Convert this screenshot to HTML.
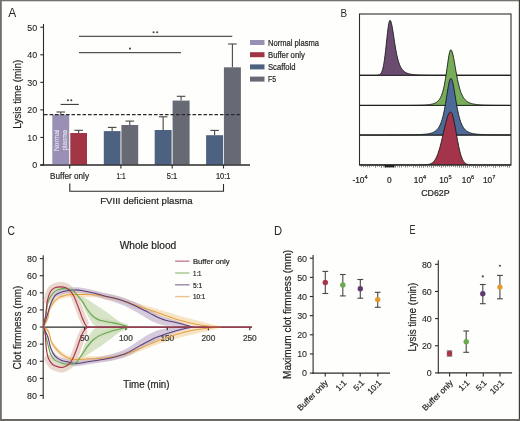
<!DOCTYPE html><html><head><meta charset="utf-8"><style>html,body{margin:0;padding:0;background:#fefefc;} svg{display:block;} text{font-family:"Liberation Sans", sans-serif;filter:grayscale(1);stroke:#2a2a2a;stroke-width:0.22px;}</style></head><body>
<svg width="520" height="421" viewBox="0 0 520 421">
<rect x="0" y="0" width="520" height="421" fill="#fefefc"/>
<text x="8.2" y="17" font-size="12.2" text-anchor="start" fill="#2a2a2a" textLength="8" lengthAdjust="spacingAndGlyphs" style="stroke:none">A</text>
<line x1="43.5" y1="24" x2="43.5" y2="165.6" stroke="#2b2b2b" stroke-width="1.1" />
<line x1="40.3" y1="165" x2="250" y2="165" stroke="#2b2b2b" stroke-width="1.1" />
<line x1="40.3" y1="165.0" x2="43.5" y2="165.0" stroke="#2b2b2b" stroke-width="1.1" />
<text x="37.2" y="168.3" font-size="8.9" text-anchor="end" fill="#1f1f1f" style="stroke-width:0.1px">0</text>
<line x1="40.3" y1="137.45" x2="43.5" y2="137.45" stroke="#2b2b2b" stroke-width="1.1" />
<text x="37.2" y="140.75" font-size="8.9" text-anchor="end" fill="#1f1f1f" style="stroke-width:0.1px">10</text>
<line x1="40.3" y1="109.9" x2="43.5" y2="109.9" stroke="#2b2b2b" stroke-width="1.1" />
<text x="37.2" y="113.2" font-size="8.9" text-anchor="end" fill="#1f1f1f" style="stroke-width:0.1px">20</text>
<line x1="40.3" y1="82.35000000000001" x2="43.5" y2="82.35000000000001" stroke="#2b2b2b" stroke-width="1.1" />
<text x="37.2" y="85.65" font-size="8.9" text-anchor="end" fill="#1f1f1f" style="stroke-width:0.1px">30</text>
<line x1="40.3" y1="54.80000000000001" x2="43.5" y2="54.80000000000001" stroke="#2b2b2b" stroke-width="1.1" />
<text x="37.2" y="58.10000000000001" font-size="8.9" text-anchor="end" fill="#1f1f1f" style="stroke-width:0.1px">40</text>
<line x1="40.3" y1="27.25" x2="43.5" y2="27.25" stroke="#2b2b2b" stroke-width="1.1" />
<text x="37.2" y="30.55" font-size="8.9" text-anchor="end" fill="#1f1f1f" style="stroke-width:0.1px">50</text>
<line x1="60.75" y1="112.0" x2="60.75" y2="114.6" stroke="#474747" stroke-width="1.1" />
<line x1="56.45" y1="112.0" x2="65.05" y2="112.0" stroke="#474747" stroke-width="1.1" />
<rect x="52.3" y="114.6" width="16.900000000000006" height="50.400000000000006" fill="#9a90b5"/>
<line x1="78.65" y1="130.3" x2="78.65" y2="133.0" stroke="#474747" stroke-width="1.1" />
<line x1="74.35000000000001" y1="130.3" x2="82.95" y2="130.3" stroke="#474747" stroke-width="1.1" />
<rect x="70.3" y="133.0" width="16.700000000000003" height="32.0" fill="#a13543"/>
<line x1="112.15" y1="127.4" x2="112.15" y2="131.1" stroke="#474747" stroke-width="1.1" />
<line x1="107.85000000000001" y1="127.4" x2="116.45" y2="127.4" stroke="#474747" stroke-width="1.1" />
<rect x="103.8" y="131.1" width="16.700000000000003" height="33.900000000000006" fill="#4d6180"/>
<line x1="129.8" y1="121.1" x2="129.8" y2="125.0" stroke="#474747" stroke-width="1.1" />
<line x1="125.50000000000001" y1="121.1" x2="134.10000000000002" y2="121.1" stroke="#474747" stroke-width="1.1" />
<rect x="121.4" y="125.0" width="16.799999999999983" height="40.0" fill="#676a74"/>
<line x1="163.14999999999998" y1="116.8" x2="163.14999999999998" y2="130.0" stroke="#474747" stroke-width="1.1" />
<line x1="158.84999999999997" y1="116.8" x2="167.45" y2="116.8" stroke="#474747" stroke-width="1.1" />
<rect x="154.7" y="130.0" width="16.900000000000006" height="35.0" fill="#4d6180"/>
<line x1="181.1" y1="96.3" x2="181.1" y2="100.6" stroke="#474747" stroke-width="1.1" />
<line x1="176.79999999999998" y1="96.3" x2="185.4" y2="96.3" stroke="#474747" stroke-width="1.1" />
<rect x="172.6" y="100.6" width="17.0" height="64.4" fill="#676a74"/>
<line x1="214.6" y1="130.4" x2="214.6" y2="135.2" stroke="#474747" stroke-width="1.1" />
<line x1="210.29999999999998" y1="130.4" x2="218.9" y2="130.4" stroke="#474747" stroke-width="1.1" />
<rect x="206.1" y="135.2" width="17.0" height="29.80000000000001" fill="#4d6180"/>
<line x1="232.4" y1="44.0" x2="232.4" y2="67.3" stroke="#474747" stroke-width="1.1" />
<line x1="228.1" y1="44.0" x2="236.70000000000002" y2="44.0" stroke="#474747" stroke-width="1.1" />
<rect x="223.9" y="67.3" width="17.0" height="97.7" fill="#676a74"/>
<text transform="translate(58.6,151) rotate(-90)" font-size="7.2" fill="#f4f2fa" style="stroke:none" textLength="21.5" lengthAdjust="spacingAndGlyphs">Normal</text>
<text transform="translate(66.6,150.5) rotate(-90)" font-size="7.2" fill="#f4f2fa" style="stroke:none" textLength="20.5" lengthAdjust="spacingAndGlyphs">plasma</text>
<line x1="40.3" y1="165" x2="250" y2="165" stroke="#2b2b2b" stroke-width="1.2" />
<line x1="69.7" y1="165" x2="69.7" y2="168.5" stroke="#2b2b2b" stroke-width="1.1" />
<line x1="120.9" y1="165" x2="120.9" y2="168.5" stroke="#2b2b2b" stroke-width="1.1" />
<line x1="172.2" y1="165" x2="172.2" y2="168.5" stroke="#2b2b2b" stroke-width="1.1" />
<line x1="223.5" y1="165" x2="223.5" y2="168.5" stroke="#2b2b2b" stroke-width="1.1" />
<line x1="44" y1="114.6" x2="241" y2="114.6" stroke="#2a2a2a" stroke-width="1.2" stroke-dasharray="3.6,1.9"/>
<line x1="60.6" y1="104.4" x2="78.8" y2="104.4" stroke="#2b2b2b" stroke-width="1.0" />
<circle cx="67.9" cy="100.2" r="1.05" fill="#444"/><circle cx="71.3" cy="100.2" r="1.05" fill="#444"/>
<line x1="79" y1="52.7" x2="181" y2="52.7" stroke="#2b2b2b" stroke-width="1.0" />
<circle cx="130" cy="48.6" r="1.05" fill="#444"/>
<line x1="79" y1="36.3" x2="232.3" y2="36.3" stroke="#2b2b2b" stroke-width="1.0" />
<circle cx="153.6" cy="32.2" r="1.05" fill="#444"/><circle cx="157.2" cy="32.2" r="1.05" fill="#444"/>
<text transform="translate(21.4,94.3) rotate(-90)" font-size="10.3" text-anchor="middle" fill="#1f1f1f" textLength="69" lengthAdjust="spacingAndGlyphs">Lysis time (min)</text>
<text x="69.5" y="178.9" font-size="9.2" text-anchor="middle" fill="#1f1f1f" textLength="39" lengthAdjust="spacingAndGlyphs" >Buffer only</text>
<text x="121" y="178.9" font-size="9.2" text-anchor="middle" fill="#1f1f1f" textLength="9" lengthAdjust="spacingAndGlyphs" >1:1</text>
<text x="172" y="178.9" font-size="9.2" text-anchor="middle" fill="#1f1f1f" textLength="10.4" lengthAdjust="spacingAndGlyphs" >5:1</text>
<text x="223.2" y="178.9" font-size="9.2" text-anchor="middle" fill="#1f1f1f" textLength="14.4" lengthAdjust="spacingAndGlyphs" >10:1</text>
<path d="M69.8,183.5 V191.3 H223.5 V184" fill="none" stroke="#2b2b2b" stroke-width="1.1"/>
<text x="100.2" y="204.2" font-size="9.4" text-anchor="start" fill="#1f1f1f" textLength="92.4" lengthAdjust="spacingAndGlyphs" >FVIII deficient plasma</text>
<rect x="250" y="40.0" width="14.5" height="5" fill="#9a90b5"/>
<text x="268" y="45.5" font-size="8.5" text-anchor="start" fill="#1f1f1f" textLength="51" lengthAdjust="spacingAndGlyphs" >Normal plasma</text>
<rect x="250" y="52.2" width="14.5" height="5" fill="#a13543"/>
<text x="268" y="57.7" font-size="8.5" text-anchor="start" fill="#1f1f1f" textLength="36.8" lengthAdjust="spacingAndGlyphs" >Buffer only</text>
<rect x="250" y="64.4" width="14.5" height="5" fill="#4d6180"/>
<text x="268" y="69.9" font-size="8.5" text-anchor="start" fill="#1f1f1f" textLength="27.5" lengthAdjust="spacingAndGlyphs" >Scaffold</text>
<rect x="250" y="76.6" width="14.5" height="5" fill="#676a74"/>
<text x="268" y="82.1" font-size="8.5" text-anchor="start" fill="#1f1f1f" textLength="8" lengthAdjust="spacingAndGlyphs" >F5</text>
<text x="340.6" y="16.8" font-size="11.8" text-anchor="start" fill="#2a2a2a" textLength="6.6" lengthAdjust="spacingAndGlyphs" style="stroke:none">B</text>
<line x1="359.5" y1="75.3" x2="511.0" y2="75.3" stroke="#555" stroke-width="1.0" />
<line x1="359.5" y1="105.4" x2="511.0" y2="105.4" stroke="#555" stroke-width="1.0" />
<line x1="359.5" y1="135.4" x2="511.0" y2="135.4" stroke="#555" stroke-width="1.0" />
<path d="M359.5,75.3 L359.50,75.30 L360.00,75.30 L360.50,75.30 L361.00,75.30 L361.50,75.30 L362.00,75.30 L362.50,75.30 L363.00,75.30 L363.50,75.30 L364.00,75.30 L364.50,75.30 L365.00,75.30 L365.50,75.30 L366.00,75.30 L366.50,75.30 L367.00,75.30 L367.50,75.30 L368.00,75.30 L368.50,75.30 L369.00,75.30 L369.50,75.30 L370.00,75.30 L370.50,75.30 L371.00,75.30 L371.50,75.30 L372.00,75.30 L372.50,75.30 L373.00,75.30 L373.50,75.30 L374.00,75.30 L374.50,75.30 L375.00,75.29 L375.50,75.29 L376.00,75.28 L376.50,75.27 L377.00,75.24 L377.50,75.21 L378.00,75.15 L378.50,75.05 L379.00,74.91 L379.50,74.69 L380.00,74.37 L380.50,73.92 L381.00,73.28 L381.50,72.42 L382.00,71.26 L382.50,69.76 L383.00,67.86 L383.50,65.50 L384.00,62.65 L384.50,59.30 L385.00,55.48 L385.50,51.23 L386.00,46.68 L386.50,41.94 L387.00,37.21 L387.50,32.68 L388.00,28.58 L388.50,25.13 L389.00,22.50 L389.50,20.86 L390.00,20.30 L390.50,20.68 L391.00,21.79 L391.50,23.57 L392.00,25.92 L392.50,28.71 L393.00,31.81 L393.50,35.09 L394.00,38.44 L394.50,41.75 L395.00,44.94 L395.50,47.97 L396.00,50.80 L396.50,53.40 L397.00,55.77 L397.50,57.91 L398.00,59.83 L398.50,61.55 L399.00,63.08 L399.50,64.43 L400.00,65.62 L400.50,66.68 L401.00,67.61 L401.50,68.43 L402.00,69.16 L402.50,69.80 L403.00,70.37 L403.50,70.87 L404.00,71.31 L404.50,71.70 L405.00,72.05 L405.50,72.36 L406.00,72.64 L406.50,72.88 L407.00,73.10 L407.50,73.30 L408.00,73.47 L408.50,73.63 L409.00,73.77 L409.50,73.90 L410.00,74.01 L410.50,74.12 L411.00,74.21 L411.50,74.30 L412.00,74.37 L412.50,74.44 L413.00,74.51 L413.50,74.56 L414.00,74.62 L414.50,74.67 L415.00,74.71 L415.50,74.75 L416.00,74.79 L416.50,74.82 L417.00,74.85 L417.50,74.88 L418.00,74.91 L418.50,74.93 L419.00,74.96 L419.50,74.98 L420.00,75.00 L420.50,75.01 L421.00,75.03 L421.50,75.05 L422.00,75.06 L422.50,75.07 L423.00,75.09 L423.50,75.10 L424.00,75.11 L424.50,75.12 L425.00,75.13 L425.50,75.14 L426.00,75.15 L426.50,75.15 L427.00,75.16 L427.50,75.17 L428.00,75.18 L428.50,75.18 L429.00,75.19 L429.50,75.19 L430.00,75.20 L430.50,75.20 L431.00,75.21 L431.50,75.21 L432.00,75.21 L432.50,75.22 L433.00,75.22 L433.50,75.23 L434.00,75.23 L434.50,75.23 L435.00,75.23 L435.50,75.24 L436.00,75.24 L436.50,75.24 L437.00,75.24 L437.50,75.25 L438.00,75.25 L438.50,75.25 L439.00,75.25 L439.50,75.25 L440.00,75.26 L440.50,75.26 L441.00,75.26 L441.50,75.26 L442.00,75.26 L442.50,75.26 L443.00,75.27 L443.50,75.27 L444.00,75.27 L444.50,75.27 L445.00,75.27 L445.50,75.27 L446.00,75.27 L446.50,75.27 L447.00,75.27 L447.50,75.27 L448.00,75.28 L448.50,75.28 L449.00,75.28 L449.50,75.28 L450.00,75.28 L450.50,75.28 L451.00,75.28 L451.50,75.28 L452.00,75.28 L452.50,75.28 L453.00,75.28 L453.50,75.28 L454.00,75.28 L454.50,75.28 L455.00,75.28 L455.50,75.28 L456.00,75.29 L456.50,75.29 L457.00,75.29 L457.50,75.29 L458.00,75.29 L458.50,75.29 L459.00,75.29 L459.50,75.29 L460.00,75.29 L460.50,75.29 L461.00,75.29 L461.50,75.29 L462.00,75.29 L462.50,75.29 L463.00,75.29 L463.50,75.29 L464.00,75.29 L464.50,75.29 L465.00,75.29 L465.50,75.29 L466.00,75.29 L466.50,75.29 L467.00,75.29 L467.50,75.29 L468.00,75.29 L468.50,75.29 L469.00,75.29 L469.50,75.29 L470.00,75.29 L470.50,75.29 L471.00,75.29 L471.50,75.29 L472.00,75.29 L472.50,75.29 L473.00,75.29 L473.50,75.29 L474.00,75.29 L474.50,75.29 L475.00,75.29 L475.50,75.29 L476.00,75.29 L476.50,75.29 L477.00,75.30 L477.50,75.30 L478.00,75.30 L478.50,75.30 L479.00,75.30 L479.50,75.30 L480.00,75.30 L480.50,75.30 L481.00,75.30 L481.50,75.30 L482.00,75.30 L482.50,75.30 L483.00,75.30 L483.50,75.30 L484.00,75.30 L484.50,75.30 L485.00,75.30 L485.50,75.30 L486.00,75.30 L486.50,75.30 L487.00,75.30 L487.50,75.30 L488.00,75.30 L488.50,75.30 L489.00,75.30 L489.50,75.30 L490.00,75.30 L490.50,75.30 L491.00,75.30 L491.50,75.30 L492.00,75.30 L492.50,75.30 L493.00,75.30 L493.50,75.30 L494.00,75.30 L494.50,75.30 L495.00,75.30 L495.50,75.30 L496.00,75.30 L496.50,75.30 L497.00,75.30 L497.50,75.30 L498.00,75.30 L498.50,75.30 L499.00,75.30 L499.50,75.30 L500.00,75.30 L500.50,75.30 L501.00,75.30 L501.50,75.30 L502.00,75.30 L502.50,75.30 L503.00,75.30 L503.50,75.30 L504.00,75.30 L504.50,75.30 L505.00,75.30 L505.50,75.30 L506.00,75.30 L506.50,75.30 L507.00,75.30 L507.50,75.30 L508.00,75.30 L508.50,75.30 L509.00,75.30 L509.50,75.30 L510.00,75.30 L510.50,75.30 L511.00,75.30 L511.0,75.3 Z" fill="#6b4c70" stroke="#1a1a1a" stroke-width="0.9" stroke-linejoin="round"/>
<path d="M359.5,105.4 L359.50,105.40 L360.00,105.40 L360.50,105.40 L361.00,105.40 L361.50,105.40 L362.00,105.40 L362.50,105.40 L363.00,105.40 L363.50,105.40 L364.00,105.40 L364.50,105.40 L365.00,105.40 L365.50,105.40 L366.00,105.40 L366.50,105.40 L367.00,105.40 L367.50,105.40 L368.00,105.40 L368.50,105.40 L369.00,105.40 L369.50,105.39 L370.00,105.39 L370.50,105.39 L371.00,105.39 L371.50,105.39 L372.00,105.39 L372.50,105.39 L373.00,105.39 L373.50,105.39 L374.00,105.39 L374.50,105.39 L375.00,105.39 L375.50,105.39 L376.00,105.39 L376.50,105.39 L377.00,105.39 L377.50,105.39 L378.00,105.39 L378.50,105.39 L379.00,105.39 L379.50,105.39 L380.00,105.39 L380.50,105.39 L381.00,105.39 L381.50,105.39 L382.00,105.39 L382.50,105.39 L383.00,105.39 L383.50,105.39 L384.00,105.39 L384.50,105.39 L385.00,105.39 L385.50,105.39 L386.00,105.39 L386.50,105.39 L387.00,105.39 L387.50,105.39 L388.00,105.39 L388.50,105.39 L389.00,105.38 L389.50,105.38 L390.00,105.38 L390.50,105.38 L391.00,105.38 L391.50,105.38 L392.00,105.38 L392.50,105.38 L393.00,105.38 L393.50,105.38 L394.00,105.38 L394.50,105.38 L395.00,105.38 L395.50,105.38 L396.00,105.38 L396.50,105.37 L397.00,105.37 L397.50,105.37 L398.00,105.37 L398.50,105.37 L399.00,105.37 L399.50,105.37 L400.00,105.37 L400.50,105.37 L401.00,105.36 L401.50,105.36 L402.00,105.36 L402.50,105.36 L403.00,105.36 L403.50,105.36 L404.00,105.36 L404.50,105.35 L405.00,105.35 L405.50,105.35 L406.00,105.35 L406.50,105.34 L407.00,105.34 L407.50,105.34 L408.00,105.34 L408.50,105.33 L409.00,105.33 L409.50,105.33 L410.00,105.32 L410.50,105.32 L411.00,105.32 L411.50,105.31 L412.00,105.31 L412.50,105.30 L413.00,105.30 L413.50,105.29 L414.00,105.29 L414.50,105.28 L415.00,105.27 L415.50,105.27 L416.00,105.26 L416.50,105.25 L417.00,105.24 L417.50,105.23 L418.00,105.22 L418.50,105.21 L419.00,105.20 L419.50,105.19 L420.00,105.18 L420.50,105.16 L421.00,105.15 L421.50,105.13 L422.00,105.11 L422.50,105.10 L423.00,105.07 L423.50,105.05 L424.00,105.03 L424.50,105.00 L425.00,104.97 L425.50,104.94 L426.00,104.91 L426.50,104.87 L427.00,104.83 L427.50,104.78 L428.00,104.73 L428.50,104.68 L429.00,104.62 L429.50,104.55 L430.00,104.48 L430.50,104.40 L431.00,104.30 L431.50,104.20 L432.00,104.09 L432.50,103.97 L433.00,103.83 L433.50,103.67 L434.00,103.50 L434.50,103.30 L435.00,103.08 L435.50,102.84 L436.00,102.56 L436.50,102.24 L437.00,101.88 L437.50,101.48 L438.00,101.01 L438.50,100.49 L439.00,99.89 L439.50,99.20 L440.00,98.42 L440.50,97.53 L441.00,96.51 L441.50,95.34 L442.00,94.02 L442.50,92.50 L443.00,90.79 L443.50,88.85 L444.00,86.66 L444.50,84.22 L445.00,81.51 L445.50,78.55 L446.00,75.34 L446.50,71.93 L447.00,68.39 L447.50,64.79 L448.00,61.27 L448.50,57.97 L449.00,55.03 L449.50,52.62 L450.00,50.90 L450.50,49.96 L451.00,49.85 L451.50,50.36 L452.00,51.43 L452.50,53.00 L453.00,55.01 L453.50,57.37 L454.00,60.00 L454.50,62.81 L455.00,65.72 L455.50,68.65 L456.00,71.55 L456.50,74.36 L457.00,77.04 L457.50,79.58 L458.00,81.95 L458.50,84.14 L459.00,86.16 L459.50,88.01 L460.00,89.69 L460.50,91.21 L461.00,92.59 L461.50,93.83 L462.00,94.95 L462.50,95.95 L463.00,96.85 L463.50,97.66 L464.00,98.38 L464.50,99.03 L465.00,99.61 L465.50,100.14 L466.00,100.61 L466.50,101.03 L467.00,101.41 L467.50,101.75 L468.00,102.06 L468.50,102.34 L469.00,102.59 L469.50,102.82 L470.00,103.02 L470.50,103.21 L471.00,103.38 L471.50,103.54 L472.00,103.68 L472.50,103.80 L473.00,103.92 L473.50,104.03 L474.00,104.13 L474.50,104.21 L475.00,104.30 L475.50,104.37 L476.00,104.44 L476.50,104.50 L477.00,104.56 L477.50,104.62 L478.00,104.67 L478.50,104.71 L479.00,104.75 L479.50,104.79 L480.00,104.83 L480.50,104.86 L481.00,104.90 L481.50,104.92 L482.00,104.95 L482.50,104.98 L483.00,105.00 L483.50,105.02 L484.00,105.04 L484.50,105.06 L485.00,105.08 L485.50,105.10 L486.00,105.11 L486.50,105.13 L487.00,105.14 L487.50,105.15 L488.00,105.17 L488.50,105.18 L489.00,105.19 L489.50,105.20 L490.00,105.21 L490.50,105.22 L491.00,105.23 L491.50,105.23 L492.00,105.24 L492.50,105.25 L493.00,105.25 L493.50,105.26 L494.00,105.27 L494.50,105.27 L495.00,105.28 L495.50,105.28 L496.00,105.29 L496.50,105.29 L497.00,105.30 L497.50,105.30 L498.00,105.31 L498.50,105.31 L499.00,105.31 L499.50,105.32 L500.00,105.32 L500.50,105.32 L501.00,105.33 L501.50,105.33 L502.00,105.33 L502.50,105.33 L503.00,105.34 L503.50,105.34 L504.00,105.34 L504.50,105.34 L505.00,105.34 L505.50,105.35 L506.00,105.35 L506.50,105.35 L507.00,105.35 L507.50,105.35 L508.00,105.35 L508.50,105.36 L509.00,105.36 L509.50,105.36 L510.00,105.36 L510.50,105.36 L511.00,105.36 L511.0,105.4 Z" fill="#77ac58" stroke="#1a1a1a" stroke-width="0.9" stroke-linejoin="round"/>
<path d="M359.5,134.9 L359.50,134.89 L360.00,134.89 L360.50,134.89 L361.00,134.89 L361.50,134.89 L362.00,134.89 L362.50,134.89 L363.00,134.89 L363.50,134.89 L364.00,134.89 L364.50,134.89 L365.00,134.89 L365.50,134.89 L366.00,134.89 L366.50,134.89 L367.00,134.89 L367.50,134.89 L368.00,134.89 L368.50,134.89 L369.00,134.89 L369.50,134.89 L370.00,134.89 L370.50,134.89 L371.00,134.89 L371.50,134.89 L372.00,134.89 L372.50,134.89 L373.00,134.89 L373.50,134.89 L374.00,134.89 L374.50,134.89 L375.00,134.89 L375.50,134.89 L376.00,134.89 L376.50,134.89 L377.00,134.89 L377.50,134.89 L378.00,134.89 L378.50,134.89 L379.00,134.89 L379.50,134.88 L380.00,134.88 L380.50,134.88 L381.00,134.88 L381.50,134.88 L382.00,134.88 L382.50,134.88 L383.00,134.88 L383.50,134.88 L384.00,134.88 L384.50,134.88 L385.00,134.88 L385.50,134.88 L386.00,134.88 L386.50,134.88 L387.00,134.88 L387.50,134.88 L388.00,134.88 L388.50,134.87 L389.00,134.87 L389.50,134.87 L390.00,134.87 L390.50,134.87 L391.00,134.87 L391.50,134.87 L392.00,134.87 L392.50,134.87 L393.00,134.87 L393.50,134.86 L394.00,134.86 L394.50,134.86 L395.00,134.86 L395.50,134.86 L396.00,134.86 L396.50,134.86 L397.00,134.85 L397.50,134.85 L398.00,134.85 L398.50,134.85 L399.00,134.85 L399.50,134.85 L400.00,134.84 L400.50,134.84 L401.00,134.84 L401.50,134.84 L402.00,134.83 L402.50,134.83 L403.00,134.83 L403.50,134.83 L404.00,134.82 L404.50,134.82 L405.00,134.82 L405.50,134.81 L406.00,134.81 L406.50,134.80 L407.00,134.80 L407.50,134.80 L408.00,134.79 L408.50,134.79 L409.00,134.78 L409.50,134.77 L410.00,134.77 L410.50,134.76 L411.00,134.76 L411.50,134.75 L412.00,134.74 L412.50,134.73 L413.00,134.73 L413.50,134.72 L414.00,134.71 L414.50,134.70 L415.00,134.69 L415.50,134.67 L416.00,134.66 L416.50,134.65 L417.00,134.63 L417.50,134.62 L418.00,134.60 L418.50,134.59 L419.00,134.57 L419.50,134.55 L420.00,134.53 L420.50,134.50 L421.00,134.48 L421.50,134.45 L422.00,134.42 L422.50,134.39 L423.00,134.36 L423.50,134.32 L424.00,134.28 L424.50,134.24 L425.00,134.19 L425.50,134.14 L426.00,134.08 L426.50,134.02 L427.00,133.96 L427.50,133.89 L428.00,133.81 L428.50,133.72 L429.00,133.63 L429.50,133.53 L430.00,133.41 L430.50,133.29 L431.00,133.15 L431.50,133.00 L432.00,132.83 L432.50,132.64 L433.00,132.43 L433.50,132.20 L434.00,131.95 L434.50,131.66 L435.00,131.35 L435.50,130.99 L436.00,130.60 L436.50,130.15 L437.00,129.66 L437.50,129.10 L438.00,128.48 L438.50,127.78 L439.00,126.99 L439.50,126.11 L440.00,125.12 L440.50,124.01 L441.00,122.77 L441.50,121.38 L442.00,119.82 L442.50,118.10 L443.00,116.18 L443.50,114.07 L444.00,111.76 L444.50,109.24 L445.00,106.53 L445.50,103.65 L446.00,100.61 L446.50,97.48 L447.00,94.30 L447.50,91.16 L448.00,88.15 L448.50,85.37 L449.00,82.93 L449.50,80.93 L450.00,79.47 L450.50,78.61 L451.00,78.41 L451.50,78.86 L452.00,79.92 L452.50,81.54 L453.00,83.64 L453.50,86.15 L454.00,88.94 L454.50,91.93 L455.00,95.02 L455.50,98.12 L456.00,101.18 L456.50,104.12 L457.00,106.92 L457.50,109.55 L458.00,111.99 L458.50,114.24 L459.00,116.29 L459.50,118.16 L460.00,119.84 L460.50,121.36 L461.00,122.73 L461.50,123.95 L462.00,125.05 L462.50,126.02 L463.00,126.90 L463.50,127.68 L464.00,128.37 L464.50,129.00 L465.00,129.55 L465.50,130.05 L466.00,130.49 L466.50,130.89 L467.00,131.25 L467.50,131.57 L468.00,131.86 L468.50,132.12 L469.00,132.35 L469.50,132.56 L470.00,132.75 L470.50,132.92 L471.00,133.08 L471.50,133.22 L472.00,133.35 L472.50,133.47 L473.00,133.57 L473.50,133.67 L474.00,133.76 L474.50,133.84 L475.00,133.91 L475.50,133.98 L476.00,134.05 L476.50,134.10 L477.00,134.16 L477.50,134.20 L478.00,134.25 L478.50,134.29 L479.00,134.33 L479.50,134.36 L480.00,134.40 L480.50,134.43 L481.00,134.45 L481.50,134.48 L482.00,134.50 L482.50,134.53 L483.00,134.55 L483.50,134.57 L484.00,134.59 L484.50,134.60 L485.00,134.62 L485.50,134.63 L486.00,134.65 L486.50,134.66 L487.00,134.67 L487.50,134.68 L488.00,134.69 L488.50,134.70 L489.00,134.71 L489.50,134.72 L490.00,134.73 L490.50,134.74 L491.00,134.75 L491.50,134.75 L492.00,134.76 L492.50,134.77 L493.00,134.77 L493.50,134.78 L494.00,134.78 L494.50,134.79 L495.00,134.79 L495.50,134.80 L496.00,134.80 L496.50,134.81 L497.00,134.81 L497.50,134.81 L498.00,134.82 L498.50,134.82 L499.00,134.82 L499.50,134.83 L500.00,134.83 L500.50,134.83 L501.00,134.83 L501.50,134.84 L502.00,134.84 L502.50,134.84 L503.00,134.84 L503.50,134.85 L504.00,134.85 L504.50,134.85 L505.00,134.85 L505.50,134.85 L506.00,134.85 L506.50,134.86 L507.00,134.86 L507.50,134.86 L508.00,134.86 L508.50,134.86 L509.00,134.86 L509.50,134.86 L510.00,134.87 L510.50,134.87 L511.00,134.87 L511.0,134.9 Z" fill="#4d6a98" stroke="#1a1a1a" stroke-width="0.9" stroke-linejoin="round"/>
<path d="M359.5,164.9 L359.50,164.90 L360.00,164.90 L360.50,164.90 L361.00,164.90 L361.50,164.90 L362.00,164.90 L362.50,164.90 L363.00,164.90 L363.50,164.90 L364.00,164.90 L364.50,164.90 L365.00,164.90 L365.50,164.90 L366.00,164.90 L366.50,164.90 L367.00,164.90 L367.50,164.90 L368.00,164.90 L368.50,164.90 L369.00,164.90 L369.50,164.90 L370.00,164.90 L370.50,164.90 L371.00,164.90 L371.50,164.90 L372.00,164.90 L372.50,164.90 L373.00,164.90 L373.50,164.90 L374.00,164.90 L374.50,164.90 L375.00,164.90 L375.50,164.90 L376.00,164.90 L376.50,164.90 L377.00,164.90 L377.50,164.90 L378.00,164.90 L378.50,164.90 L379.00,164.90 L379.50,164.90 L380.00,164.90 L380.50,164.90 L381.00,164.90 L381.50,164.90 L382.00,164.90 L382.50,164.90 L383.00,164.90 L383.50,164.90 L384.00,164.90 L384.50,164.90 L385.00,164.90 L385.50,164.90 L386.00,164.90 L386.50,164.90 L387.00,164.90 L387.50,164.90 L388.00,164.90 L388.50,164.90 L389.00,164.90 L389.50,164.90 L390.00,164.90 L390.50,164.90 L391.00,164.90 L391.50,164.90 L392.00,164.90 L392.50,164.90 L393.00,164.90 L393.50,164.90 L394.00,164.90 L394.50,164.90 L395.00,164.90 L395.50,164.90 L396.00,164.90 L396.50,164.90 L397.00,164.90 L397.50,164.90 L398.00,164.90 L398.50,164.90 L399.00,164.90 L399.50,164.90 L400.00,164.90 L400.50,164.90 L401.00,164.90 L401.50,164.90 L402.00,164.90 L402.50,164.90 L403.00,164.90 L403.50,164.90 L404.00,164.90 L404.50,164.90 L405.00,164.90 L405.50,164.90 L406.00,164.90 L406.50,164.90 L407.00,164.90 L407.50,164.90 L408.00,164.90 L408.50,164.90 L409.00,164.90 L409.50,164.90 L410.00,164.90 L410.50,164.90 L411.00,164.90 L411.50,164.90 L412.00,164.90 L412.50,164.90 L413.00,164.90 L413.50,164.90 L414.00,164.90 L414.50,164.90 L415.00,164.90 L415.50,164.90 L416.00,164.90 L416.50,164.90 L417.00,164.90 L417.50,164.90 L418.00,164.90 L418.50,164.90 L419.00,164.90 L419.50,164.90 L420.00,164.89 L420.50,164.89 L421.00,164.89 L421.50,164.88 L422.00,164.88 L422.50,164.87 L423.00,164.87 L423.50,164.86 L424.00,164.84 L424.50,164.83 L425.00,164.80 L425.50,164.78 L426.00,164.75 L426.50,164.70 L427.00,164.65 L427.50,164.59 L428.00,164.52 L428.50,164.42 L429.00,164.31 L429.50,164.18 L430.00,164.02 L430.50,163.83 L431.00,163.60 L431.50,163.33 L432.00,163.02 L432.50,162.66 L433.00,162.23 L433.50,161.75 L434.00,161.19 L434.50,160.56 L435.00,159.84 L435.50,159.03 L436.00,158.13 L436.50,157.13 L437.00,156.01 L437.50,154.79 L438.00,153.46 L438.50,152.01 L439.00,150.45 L439.50,148.78 L440.00,147.00 L440.50,145.12 L441.00,143.15 L441.50,141.10 L442.00,138.98 L442.50,136.81 L443.00,134.60 L443.50,132.37 L444.00,130.15 L444.50,127.95 L445.00,125.81 L445.50,123.74 L446.00,121.77 L446.50,119.92 L447.00,118.22 L447.50,116.68 L448.00,115.34 L448.50,114.20 L449.00,113.29 L449.50,112.61 L450.00,112.18 L450.50,112.01 L451.00,112.13 L451.50,112.68 L452.00,113.63 L452.50,114.96 L453.00,116.64 L453.50,118.64 L454.00,120.90 L454.50,123.39 L455.00,126.05 L455.50,128.83 L456.00,131.67 L456.50,134.53 L457.00,137.37 L457.50,140.14 L458.00,142.81 L458.50,145.34 L459.00,147.73 L459.50,149.94 L460.00,151.97 L460.50,153.81 L461.00,155.47 L461.50,156.94 L462.00,158.24 L462.50,159.37 L463.00,160.34 L463.50,161.17 L464.00,161.88 L464.50,162.47 L465.00,162.96 L465.50,163.36 L466.00,163.69 L466.50,163.96 L467.00,164.17 L467.50,164.34 L468.00,164.48 L468.50,164.58 L469.00,164.66 L469.50,164.72 L470.00,164.77 L470.50,164.80 L471.00,164.83 L471.50,164.85 L472.00,164.86 L472.50,164.87 L473.00,164.88 L473.50,164.89 L474.00,164.89 L474.50,164.89 L475.00,164.90 L475.50,164.90 L476.00,164.90 L476.50,164.90 L477.00,164.90 L477.50,164.90 L478.00,164.90 L478.50,164.90 L479.00,164.90 L479.50,164.90 L480.00,164.90 L480.50,164.90 L481.00,164.90 L481.50,164.90 L482.00,164.90 L482.50,164.90 L483.00,164.90 L483.50,164.90 L484.00,164.90 L484.50,164.90 L485.00,164.90 L485.50,164.90 L486.00,164.90 L486.50,164.90 L487.00,164.90 L487.50,164.90 L488.00,164.90 L488.50,164.90 L489.00,164.90 L489.50,164.90 L490.00,164.90 L490.50,164.90 L491.00,164.90 L491.50,164.90 L492.00,164.90 L492.50,164.90 L493.00,164.90 L493.50,164.90 L494.00,164.90 L494.50,164.90 L495.00,164.90 L495.50,164.90 L496.00,164.90 L496.50,164.90 L497.00,164.90 L497.50,164.90 L498.00,164.90 L498.50,164.90 L499.00,164.90 L499.50,164.90 L500.00,164.90 L500.50,164.90 L501.00,164.90 L501.50,164.90 L502.00,164.90 L502.50,164.90 L503.00,164.90 L503.50,164.90 L504.00,164.90 L504.50,164.90 L505.00,164.90 L505.50,164.90 L506.00,164.90 L506.50,164.90 L507.00,164.90 L507.50,164.90 L508.00,164.90 L508.50,164.90 L509.00,164.90 L509.50,164.90 L510.00,164.90 L510.50,164.90 L511.00,164.90 L511.0,164.9 Z" fill="#a3344a" stroke="#1a1a1a" stroke-width="0.9" stroke-linejoin="round"/>
<rect x="359.5" y="14.0" width="151.5" height="151.0" fill="none" stroke="#2e2e2e" stroke-width="1.1"/>
<line x1="361.5" y1="165.0" x2="361.5" y2="166.85694694063784" stroke="#444" stroke-width="0.6" />
<line x1="363.5" y1="165.0" x2="363.5" y2="167.31634383794392" stroke="#444" stroke-width="0.6" />
<line x1="365.5" y1="165.0" x2="365.5" y2="167.05493274982211" stroke="#444" stroke-width="0.6" />
<line x1="367.5" y1="165.0" x2="367.5" y2="167.40588005789428" stroke="#444" stroke-width="0.6" />
<line x1="369.5" y1="165.0" x2="369.5" y2="167.43858045616207" stroke="#444" stroke-width="0.6" />
<line x1="371.5" y1="165.0" x2="371.5" y2="166.5982932888597" stroke="#444" stroke-width="0.6" />
<line x1="373.5" y1="165.0" x2="373.5" y2="166.5197519873323" stroke="#444" stroke-width="0.6" />
<line x1="375.5" y1="165.0" x2="375.5" y2="167.7562036231447" stroke="#444" stroke-width="0.6" />
<line x1="377.5" y1="165.0" x2="377.5" y2="166.889031021492" stroke="#444" stroke-width="0.6" />
<line x1="379.5" y1="165.0" x2="379.5" y2="166.85149644157005" stroke="#444" stroke-width="0.6" />
<line x1="381.5" y1="165.0" x2="381.5" y2="167.9934672532657" stroke="#444" stroke-width="0.6" />
<line x1="383.5" y1="165.0" x2="383.5" y2="167.20539526128368" stroke="#444" stroke-width="0.6" />
<line x1="385.5" y1="165.0" x2="385.5" y2="167.7546921769116" stroke="#444" stroke-width="0.6" />
<line x1="387.5" y1="165.0" x2="387.5" y2="167.214529813049" stroke="#444" stroke-width="0.6" />
<line x1="389.5" y1="165.0" x2="389.5" y2="167.45860221081625" stroke="#444" stroke-width="0.6" />
<line x1="391.5" y1="165.0" x2="391.5" y2="166.72592463603527" stroke="#444" stroke-width="0.6" />
<line x1="393.5" y1="165.0" x2="393.5" y2="167.45229098742777" stroke="#444" stroke-width="0.6" />
<line x1="395.5" y1="165.0" x2="395.5" y2="167.80206796071494" stroke="#444" stroke-width="0.6" />
<line x1="397.5" y1="165.0" x2="397.5" y2="167.28477181557494" stroke="#444" stroke-width="0.6" />
<line x1="399.5" y1="165.0" x2="399.5" y2="167.61187778430224" stroke="#444" stroke-width="0.6" />
<line x1="401.5" y1="165.0" x2="401.5" y2="167.50711721305439" stroke="#444" stroke-width="0.6" />
<line x1="403.5" y1="165.0" x2="403.5" y2="166.5960471573405" stroke="#444" stroke-width="0.6" />
<line x1="405.5" y1="165.0" x2="405.5" y2="167.63734536943022" stroke="#444" stroke-width="0.6" />
<line x1="407.5" y1="165.0" x2="407.5" y2="167.38664937439697" stroke="#444" stroke-width="0.6" />
<line x1="409.5" y1="165.0" x2="409.5" y2="166.95190148927358" stroke="#444" stroke-width="0.6" />
<line x1="411.5" y1="165.0" x2="411.5" y2="166.54651762720462" stroke="#444" stroke-width="0.6" />
<line x1="413.5" y1="165.0" x2="413.5" y2="167.79829085546842" stroke="#444" stroke-width="0.6" />
<line x1="415.5" y1="165.0" x2="415.5" y2="167.2091236329982" stroke="#444" stroke-width="0.6" />
<line x1="417.5" y1="165.0" x2="417.5" y2="167.5782358860987" stroke="#444" stroke-width="0.6" />
<line x1="419.5" y1="165.0" x2="419.5" y2="167.81821920038323" stroke="#444" stroke-width="0.6" />
<line x1="421.5" y1="165.0" x2="421.5" y2="167.5711942254168" stroke="#444" stroke-width="0.6" />
<line x1="423.5" y1="165.0" x2="423.5" y2="167.88164800137582" stroke="#444" stroke-width="0.6" />
<line x1="425.5" y1="165.0" x2="425.5" y2="167.09244510600112" stroke="#444" stroke-width="0.6" />
<line x1="427.5" y1="165.0" x2="427.5" y2="167.70136315647784" stroke="#444" stroke-width="0.6" />
<line x1="429.5" y1="165.0" x2="429.5" y2="167.16693158407614" stroke="#444" stroke-width="0.6" />
<line x1="431.5" y1="165.0" x2="431.5" y2="167.9033800825568" stroke="#444" stroke-width="0.6" />
<line x1="433.5" y1="165.0" x2="433.5" y2="167.81829999050706" stroke="#444" stroke-width="0.6" />
<line x1="435.5" y1="165.0" x2="435.5" y2="166.6461814645963" stroke="#444" stroke-width="0.6" />
<line x1="437.5" y1="165.0" x2="437.5" y2="166.703953290301" stroke="#444" stroke-width="0.6" />
<line x1="439.5" y1="165.0" x2="439.5" y2="166.8254804118497" stroke="#444" stroke-width="0.6" />
<line x1="441.5" y1="165.0" x2="441.5" y2="167.9482202083473" stroke="#444" stroke-width="0.6" />
<line x1="443.5" y1="165.0" x2="443.5" y2="167.15424279994113" stroke="#444" stroke-width="0.6" />
<line x1="445.5" y1="165.0" x2="445.5" y2="167.4399724363002" stroke="#444" stroke-width="0.6" />
<line x1="447.5" y1="165.0" x2="447.5" y2="166.95153929763825" stroke="#444" stroke-width="0.6" />
<line x1="449.5" y1="165.0" x2="449.5" y2="167.2608644757436" stroke="#444" stroke-width="0.6" />
<line x1="451.5" y1="165.0" x2="451.5" y2="167.07879938826736" stroke="#444" stroke-width="0.6" />
<line x1="453.5" y1="165.0" x2="453.5" y2="167.02636573315527" stroke="#444" stroke-width="0.6" />
<line x1="455.5" y1="165.0" x2="455.5" y2="167.37761116110804" stroke="#444" stroke-width="0.6" />
<line x1="457.5" y1="165.0" x2="457.5" y2="167.3763776894553" stroke="#444" stroke-width="0.6" />
<line x1="459.5" y1="165.0" x2="459.5" y2="167.85630265627165" stroke="#444" stroke-width="0.6" />
<line x1="461.5" y1="165.0" x2="461.5" y2="167.52297320495245" stroke="#444" stroke-width="0.6" />
<line x1="463.5" y1="165.0" x2="463.5" y2="167.89341840180003" stroke="#444" stroke-width="0.6" />
<line x1="465.5" y1="165.0" x2="465.5" y2="167.78460084959514" stroke="#444" stroke-width="0.6" />
<line x1="467.5" y1="165.0" x2="467.5" y2="167.98648446730323" stroke="#444" stroke-width="0.6" />
<line x1="469.5" y1="165.0" x2="469.5" y2="167.50691031324376" stroke="#444" stroke-width="0.6" />
<line x1="471.5" y1="165.0" x2="471.5" y2="166.7446494329566" stroke="#444" stroke-width="0.6" />
<line x1="473.5" y1="165.0" x2="473.5" y2="167.7909562996744" stroke="#444" stroke-width="0.6" />
<line x1="475.5" y1="165.0" x2="475.5" y2="167.9469494209636" stroke="#444" stroke-width="0.6" />
<line x1="477.5" y1="165.0" x2="477.5" y2="167.85704397676835" stroke="#444" stroke-width="0.6" />
<line x1="479.5" y1="165.0" x2="479.5" y2="167.35366125521148" stroke="#444" stroke-width="0.6" />
<line x1="481.5" y1="165.0" x2="481.5" y2="167.57072553026129" stroke="#444" stroke-width="0.6" />
<line x1="483.5" y1="165.0" x2="483.5" y2="166.8166874755134" stroke="#444" stroke-width="0.6" />
<line x1="485.5" y1="165.0" x2="485.5" y2="167.74741189541004" stroke="#444" stroke-width="0.6" />
<line x1="487.5" y1="165.0" x2="487.5" y2="167.36029852852693" stroke="#444" stroke-width="0.6" />
<line x1="489.5" y1="165.0" x2="489.5" y2="166.92743619297931" stroke="#444" stroke-width="0.6" />
<line x1="491.5" y1="165.0" x2="491.5" y2="166.59519086571785" stroke="#444" stroke-width="0.6" />
<line x1="493.5" y1="165.0" x2="493.5" y2="167.78091373263402" stroke="#444" stroke-width="0.6" />
<line x1="495.5" y1="165.0" x2="495.5" y2="167.98470902238236" stroke="#444" stroke-width="0.6" />
<line x1="497.5" y1="165.0" x2="497.5" y2="166.6327771396646" stroke="#444" stroke-width="0.6" />
<line x1="499.5" y1="165.0" x2="499.5" y2="167.70089298188626" stroke="#444" stroke-width="0.6" />
<line x1="501.5" y1="165.0" x2="501.5" y2="167.11569274101888" stroke="#444" stroke-width="0.6" />
<line x1="503.5" y1="165.0" x2="503.5" y2="166.72614806167923" stroke="#444" stroke-width="0.6" />
<line x1="505.5" y1="165.0" x2="505.5" y2="166.9408368702286" stroke="#444" stroke-width="0.6" />
<line x1="507.5" y1="165.0" x2="507.5" y2="167.653187830916" stroke="#444" stroke-width="0.6" />
<line x1="509.5" y1="165.0" x2="509.5" y2="167.8091505369423" stroke="#444" stroke-width="0.6" />
<rect x="384.5" y="165" width="10" height="2.4" fill="#222"/>
<text x="352.4" y="182.6" font-size="8.3" fill="#1f1f1f">-10<tspan dy="-3.2" font-size="5.6">4</tspan></text>
<text x="389.3" y="182.6" font-size="8.3" text-anchor="middle" fill="#1f1f1f" >0</text>
<text x="413.8" y="182.6" font-size="8.3" fill="#1f1f1f">10<tspan dy="-3.2" font-size="5.6">4</tspan></text>
<text x="439.2" y="182.6" font-size="8.3" fill="#1f1f1f">10<tspan dy="-3.2" font-size="5.6">5</tspan></text>
<text x="461.8" y="182.6" font-size="8.3" fill="#1f1f1f">10<tspan dy="-3.2" font-size="5.6">6</tspan></text>
<text x="483.0" y="182.6" font-size="8.3" fill="#1f1f1f">10<tspan dy="-3.2" font-size="5.6">7</tspan></text>
<text x="421.2" y="196.3" font-size="8.6" text-anchor="start" fill="#1f1f1f" textLength="28.4" lengthAdjust="spacingAndGlyphs" >CD62P</text>
<text x="7.6" y="235" font-size="12.4" text-anchor="start" fill="#2a2a2a" textLength="7.4" lengthAdjust="spacingAndGlyphs" style="stroke:none">C</text>
<line x1="43.2" y1="255.3" x2="43.2" y2="399.1" stroke="#2b2b2b" stroke-width="1.1" />
<line x1="39.8" y1="258.6" x2="43.2" y2="258.6" stroke="#2b2b2b" stroke-width="1.1" />
<text x="36.9" y="261.90000000000003" font-size="8.9" text-anchor="end" fill="#1f1f1f" style="stroke-width:0.1px">80</text>
<line x1="39.8" y1="275.71000000000004" x2="43.2" y2="275.71000000000004" stroke="#2b2b2b" stroke-width="1.1" />
<text x="36.9" y="279.01000000000005" font-size="8.9" text-anchor="end" fill="#1f1f1f" style="stroke-width:0.1px">60</text>
<line x1="39.8" y1="292.82000000000005" x2="43.2" y2="292.82000000000005" stroke="#2b2b2b" stroke-width="1.1" />
<text x="36.9" y="296.12000000000006" font-size="8.9" text-anchor="end" fill="#1f1f1f" style="stroke-width:0.1px">40</text>
<line x1="39.8" y1="309.93" x2="43.2" y2="309.93" stroke="#2b2b2b" stroke-width="1.1" />
<text x="36.9" y="313.23" font-size="8.9" text-anchor="end" fill="#1f1f1f" style="stroke-width:0.1px">20</text>
<line x1="39.8" y1="327.04" x2="43.2" y2="327.04" stroke="#2b2b2b" stroke-width="1.1" />
<text x="36.9" y="330.34000000000003" font-size="8.9" text-anchor="end" fill="#1f1f1f" style="stroke-width:0.1px">0</text>
<line x1="39.8" y1="344.15000000000003" x2="43.2" y2="344.15000000000003" stroke="#2b2b2b" stroke-width="1.1" />
<text x="36.9" y="347.45000000000005" font-size="8.9" text-anchor="end" fill="#1f1f1f" style="stroke-width:0.1px">20</text>
<line x1="39.8" y1="361.26" x2="43.2" y2="361.26" stroke="#2b2b2b" stroke-width="1.1" />
<text x="36.9" y="364.56" font-size="8.9" text-anchor="end" fill="#1f1f1f" style="stroke-width:0.1px">40</text>
<line x1="39.8" y1="378.37" x2="43.2" y2="378.37" stroke="#2b2b2b" stroke-width="1.1" />
<text x="36.9" y="381.67" font-size="8.9" text-anchor="end" fill="#1f1f1f" style="stroke-width:0.1px">60</text>
<line x1="39.8" y1="395.48" x2="43.2" y2="395.48" stroke="#2b2b2b" stroke-width="1.1" />
<text x="36.9" y="398.78000000000003" font-size="8.9" text-anchor="end" fill="#1f1f1f" style="stroke-width:0.1px">80</text>
<text x="119.7" y="248.5" font-size="10.2" text-anchor="start" fill="#1f1f1f" textLength="56.5" lengthAdjust="spacingAndGlyphs" >Whole blood</text>
<text transform="translate(21.3,327.5) rotate(-90)" font-size="10.3" text-anchor="middle" fill="#1f1f1f" textLength="83.8" lengthAdjust="spacingAndGlyphs">Clot firmness (mm)</text>
<text x="123.3" y="388.4" font-size="10.2" text-anchor="start" fill="#1f1f1f" textLength="46.2" lengthAdjust="spacingAndGlyphs" >Time (min)</text>
<path d="M47.30,300.20 C47.83,298.58 49.25,292.73 50.50,290.50 C51.75,288.27 53.13,287.58 54.80,286.80 C56.47,286.02 58.63,285.80 60.50,285.80 C62.37,285.80 64.42,286.12 66.00,286.80 C67.58,287.48 68.75,288.62 70.00,289.90 C71.25,291.18 72.43,292.63 73.50,294.50 C74.57,296.37 75.38,298.58 76.40,301.10 C77.42,303.62 78.60,306.90 79.60,309.60 C80.60,312.30 81.53,315.13 82.40,317.30 C83.27,319.47 84.40,321.72 84.80,322.60" fill="none" stroke="#d9b8aa" stroke-width="7.5" stroke-linecap="round" stroke-linejoin="round" opacity="0.55"/>
<path d="M48.30,359.00 C49.02,360.08 50.82,363.98 52.60,365.50 C54.38,367.02 57.27,367.63 59.00,368.10 C60.73,368.57 61.50,368.65 63.00,368.30 C64.50,367.95 66.75,366.80 68.00,366.00 C69.25,365.20 69.58,364.83 70.50,363.50 C71.42,362.17 72.45,360.28 73.50,358.00 C74.55,355.72 75.63,352.97 76.80,349.80 C77.97,346.63 79.38,341.88 80.50,339.00 C81.62,336.12 83.00,333.58 83.50,332.50" fill="none" stroke="#d9b8aa" stroke-width="8" stroke-linecap="round" stroke-linejoin="round" opacity="0.55"/>
<path d="M43.30,324.50 C43.75,322.48 45.17,316.72 46.00,312.40 C46.83,308.08 47.02,302.33 48.30,298.60 C49.58,294.87 51.92,291.97 53.70,290.00 C55.48,288.03 57.28,287.47 59.00,286.80 C60.72,286.13 62.50,286.08 64.00,286.00 C65.50,285.92 66.92,286.13 68.00,286.30 C69.08,286.47 69.45,286.52 70.50,287.00 C71.55,287.48 72.97,288.02 74.30,289.20 C75.63,290.38 77.08,292.38 78.50,294.10 C79.92,295.82 81.37,297.40 82.80,299.50 C84.23,301.60 85.68,304.62 87.10,306.70 C88.52,308.78 89.88,310.50 91.30,312.00 C92.72,313.50 94.15,314.77 95.60,315.70 C97.05,316.63 97.53,316.93 100.00,317.60 C102.47,318.27 107.27,319.07 110.40,319.70 C113.53,320.33 116.30,320.82 118.80,321.40 C121.30,321.98 123.87,322.68 125.40,323.20 C126.93,323.72 127.57,324.28 128.00,324.50 L128.00,329.70 C127.57,329.48 126.93,328.92 125.40,328.40 C123.87,327.88 121.30,327.18 118.80,326.60 C116.30,326.02 113.53,325.53 110.40,324.90 C107.27,324.27 102.47,323.47 100.00,322.80 C97.53,322.13 97.05,321.83 95.60,320.90 C94.15,319.97 92.72,318.70 91.30,317.20 C89.88,315.70 88.52,313.98 87.10,311.90 C85.68,309.82 84.23,306.80 82.80,304.70 C81.37,302.60 79.92,301.02 78.50,299.30 C77.08,297.58 75.63,295.58 74.30,294.40 C72.97,293.22 71.55,292.68 70.50,292.20 C69.45,291.72 69.08,291.67 68.00,291.50 C66.92,291.33 65.50,291.12 64.00,291.20 C62.50,291.28 60.72,291.33 59.00,292.00 C57.28,292.67 55.48,293.23 53.70,295.20 C51.92,297.17 49.58,300.07 48.30,303.80 C47.02,307.53 46.83,313.28 46.00,317.60 C45.17,321.92 43.75,327.68 43.30,329.70 Z" fill="#c6d6b0" opacity="0.5"/>
<path d="M43.30,324.50 C43.97,326.98 46.10,334.95 47.30,339.40 C48.50,343.85 49.25,348.17 50.50,351.20 C51.75,354.23 52.85,356.00 54.80,357.60 C56.75,359.20 60.00,360.13 62.20,360.80 C64.40,361.47 65.77,361.67 68.00,361.60 C70.23,361.53 73.43,361.77 75.60,360.40 C77.77,359.03 79.02,356.17 81.00,353.40 C82.98,350.63 85.50,346.47 87.50,343.80 C89.50,341.13 91.02,339.20 93.00,337.40 C94.98,335.60 96.50,334.43 99.40,333.00 C102.30,331.57 106.27,330.08 110.40,328.80 C114.53,327.52 121.27,326.02 124.20,325.30 C127.13,324.58 127.37,324.63 128.00,324.50 L128.00,329.70 C127.37,329.83 127.13,329.78 124.20,330.50 C121.27,331.22 114.53,332.72 110.40,334.00 C106.27,335.28 102.30,336.77 99.40,338.20 C96.50,339.63 94.98,340.80 93.00,342.60 C91.02,344.40 89.50,346.33 87.50,349.00 C85.50,351.67 82.98,355.83 81.00,358.60 C79.02,361.37 77.77,364.23 75.60,365.60 C73.43,366.97 70.23,366.73 68.00,366.80 C65.77,366.87 64.40,366.67 62.20,366.00 C60.00,365.33 56.75,364.40 54.80,362.80 C52.85,361.20 51.75,359.43 50.50,356.40 C49.25,353.37 48.50,349.05 47.30,344.60 C46.10,340.15 43.97,332.18 43.30,329.70 Z" fill="#c6d6b0" opacity="0.5"/>
<path d="M80,296 C86,297 92,303 100,307.5 C110,314 118,321 127.5,327.1 L98,327.1 C92,326 88,316 84,308 Z" fill="#c7d8b2" opacity="0.7"/>
<path d="M80,358 C86,357 92,351 100,346.7 C110,340 118,333 127.5,327.1 L98,327.1 C92,328 88,338 84,346 Z" fill="#c7d8b2" opacity="0.7"/>
<path d="M43.30,326.49 C44.05,324.76 46.78,319.35 47.80,316.09 C48.82,312.82 48.42,309.73 49.40,306.91 C50.38,304.10 52.10,301.29 53.70,299.20 C55.30,297.11 57.28,295.47 59.00,294.40 C60.72,293.33 62.50,293.23 64.00,292.80 C65.50,292.37 66.17,292.02 68.00,291.80 C69.83,291.58 71.75,291.53 75.00,291.50 C78.25,291.47 83.43,291.45 87.50,291.60 C91.57,291.75 96.55,292.06 99.40,292.40 C102.25,292.74 101.37,292.94 104.60,293.62 C107.83,294.30 114.47,295.30 118.80,296.48 C123.13,297.67 126.65,299.35 130.60,300.74 C134.55,302.12 138.53,303.55 142.50,304.79 C146.47,306.03 150.58,307.07 154.40,308.18 C158.22,309.30 161.00,310.14 165.40,311.48 C169.80,312.82 175.70,314.77 180.80,316.22 C185.90,317.67 190.88,318.86 196.00,320.20 C201.12,321.54 207.33,323.14 211.50,324.24 C215.67,325.34 219.42,326.37 221.00,326.80 L221.00,327.40 C219.42,327.41 215.67,327.66 211.50,327.47 C207.33,327.29 201.12,326.98 196.00,326.27 C190.88,325.56 185.90,324.56 180.80,323.22 C175.70,321.87 169.80,319.67 165.40,318.21 C161.00,316.75 158.22,315.73 154.40,314.44 C150.58,313.16 146.47,311.86 142.50,310.53 C138.53,309.19 134.55,307.81 130.60,306.41 C126.65,305.00 123.13,303.30 118.80,302.09 C114.47,300.88 107.83,299.84 104.60,299.15 C101.37,298.45 102.25,298.24 99.40,297.90 C96.55,297.56 91.57,297.25 87.50,297.10 C83.43,296.95 78.25,296.97 75.00,297.00 C71.75,297.03 69.83,297.08 68.00,297.30 C66.17,297.52 65.50,297.87 64.00,298.30 C62.50,298.73 60.72,298.83 59.00,299.90 C57.28,300.97 55.30,302.68 53.70,304.70 C52.10,306.72 50.38,309.45 49.40,312.03 C48.42,314.61 48.82,317.56 47.80,320.17 C46.78,322.78 44.05,326.43 43.30,327.69 Z" fill="#f0cd98" opacity="0.55"/>
<path d="M43.30,327.71 C44.13,328.70 46.93,330.81 48.30,333.69 C49.67,336.58 50.25,342.05 51.50,345.00 C52.75,347.95 54.18,349.43 55.80,351.40 C57.42,353.37 59.17,355.20 61.20,356.80 C63.23,358.40 65.60,360.03 68.00,361.00 C70.40,361.97 72.27,362.47 75.60,362.60 C78.93,362.73 84.03,361.98 88.00,361.80 C91.97,361.62 95.67,361.76 99.40,361.50 C103.13,361.24 106.00,361.02 110.40,360.25 C114.80,359.48 120.67,358.46 125.80,356.89 C130.93,355.31 136.08,352.86 141.20,350.82 C146.32,348.77 151.38,346.42 156.50,344.63 C161.62,342.84 167.15,341.47 171.90,340.08 C176.65,338.68 180.98,337.32 185.00,336.27 C189.02,335.23 191.58,334.84 196.00,333.80 C200.42,332.76 207.33,331.12 211.50,330.06 C215.67,328.99 219.42,327.84 221.00,327.40 L221.00,326.80 C219.42,326.80 215.67,326.67 211.50,326.83 C207.33,326.98 200.42,327.29 196.00,327.73 C191.58,328.16 189.02,328.55 185.00,329.44 C180.98,330.33 176.65,331.60 171.90,333.07 C167.15,334.55 161.62,336.28 156.50,338.28 C151.38,340.28 146.32,342.93 141.20,345.09 C136.08,347.25 130.93,349.64 125.80,351.24 C120.67,352.84 114.80,353.90 110.40,354.70 C106.00,355.49 103.13,355.73 99.40,356.00 C95.67,356.27 91.97,356.12 88.00,356.30 C84.03,356.48 78.93,357.23 75.60,357.10 C72.27,356.97 70.40,356.47 68.00,355.50 C65.60,354.53 63.23,352.90 61.20,351.30 C59.17,349.70 57.42,347.87 55.80,345.90 C54.18,343.93 52.75,342.27 51.50,339.50 C50.25,336.73 49.67,331.45 48.30,329.29 C46.93,327.12 44.13,326.98 43.30,326.51 Z" fill="#f0cd98" opacity="0.55"/>
<path d="M43.30,326.51 C43.97,324.31 46.10,317.37 47.30,313.27 C48.50,309.17 49.25,305.23 50.50,301.90 C51.75,298.56 53.20,295.25 54.80,293.27 C56.40,291.29 57.90,290.94 60.10,290.04 C62.30,289.14 65.52,288.36 68.00,287.89 C70.48,287.43 72.75,287.28 75.00,287.25 C77.25,287.22 78.17,287.18 81.50,287.71 C84.83,288.24 91.15,289.53 95.00,290.43 C98.85,291.33 101.27,292.32 104.60,293.12 C107.93,293.92 111.35,294.28 115.00,295.24 C118.65,296.19 122.65,297.40 126.50,298.84 C130.35,300.27 134.25,301.99 138.10,303.83 C141.95,305.68 145.75,307.89 149.60,309.92 C153.45,311.95 158.32,314.66 161.20,316.01 C164.08,317.35 164.60,317.28 166.90,318.00 C169.20,318.71 172.32,319.44 175.00,320.28 C177.68,321.12 180.00,321.96 183.00,323.04 C186.00,324.13 191.33,326.17 193.00,326.80 L193.00,327.40 C191.33,327.28 186.00,326.89 183.00,326.68 C180.00,326.47 177.68,326.28 175.00,326.13 C172.32,325.98 169.20,325.99 166.90,325.78 C164.60,325.57 164.08,325.82 161.20,324.87 C158.32,323.91 153.45,322.02 149.60,320.06 C145.75,318.10 141.95,315.33 138.10,313.11 C134.25,310.89 130.35,308.57 126.50,306.75 C122.65,304.93 118.65,303.45 115.00,302.20 C111.35,300.95 107.93,300.28 104.60,299.28 C101.27,298.27 98.85,297.16 95.00,296.15 C91.15,295.14 84.83,293.80 81.50,293.21 C78.17,292.63 77.25,292.66 75.00,292.65 C72.75,292.64 70.48,292.75 68.00,293.18 C65.52,293.61 62.30,294.34 60.10,295.20 C57.90,296.06 56.40,296.40 54.80,298.35 C53.20,300.30 51.75,303.84 50.50,306.90 C49.25,309.97 48.50,313.27 47.30,316.73 C46.10,320.19 43.97,325.86 43.30,327.69 Z" fill="#b9a8c8" opacity="0.6"/>
<path d="M43.30,327.69 C44.05,329.50 46.60,334.87 47.80,338.57 C49.00,342.27 49.33,346.59 50.50,349.90 C51.67,353.21 53.02,356.28 54.80,358.43 C56.58,360.57 59.00,361.74 61.20,362.77 C63.40,363.80 65.60,364.03 68.00,364.61 C70.40,365.19 72.27,366.27 75.60,366.25 C78.93,366.24 84.03,365.10 88.00,364.53 C91.97,363.95 95.67,363.37 99.40,362.80 C103.13,362.22 106.00,362.09 110.40,361.08 C114.80,360.07 120.67,358.86 125.80,356.75 C130.93,354.65 136.08,351.21 141.20,348.46 C146.32,345.71 151.38,342.62 156.50,340.25 C161.62,337.88 167.48,335.88 171.90,334.22 C176.32,332.55 179.48,331.39 183.00,330.26 C186.52,329.12 191.33,327.88 193.00,327.40 L193.00,326.80 C191.33,326.77 186.52,326.50 183.00,326.62 C179.48,326.75 176.32,326.85 171.90,327.55 C167.48,328.25 161.62,328.95 156.50,330.84 C151.38,332.73 146.32,335.87 141.20,338.88 C136.08,341.89 130.93,346.32 125.80,348.92 C120.67,351.52 114.80,353.13 110.40,354.48 C106.00,355.82 103.13,356.27 99.40,357.01 C95.67,357.75 91.97,358.28 88.00,358.92 C84.03,359.56 78.93,360.78 75.60,360.84 C72.27,360.91 70.40,359.86 68.00,359.32 C65.60,358.78 63.40,358.58 61.20,357.59 C59.00,356.59 56.58,355.47 54.80,353.35 C53.02,351.24 51.67,347.98 50.50,344.89 C49.33,341.81 49.00,337.89 47.80,334.83 C46.60,331.77 44.05,327.90 43.30,326.51 Z" fill="#b9a8c8" opacity="0.6"/>
<line x1="43.2" y1="327.1" x2="252" y2="327.1" stroke="#2b2b2b" stroke-width="1.2" />
<line x1="84.5" y1="327.1" x2="84.5" y2="330.3" stroke="#2b2b2b" stroke-width="1.1" />
<text x="84.5" y="341.2" font-size="8.3" text-anchor="middle" fill="#444" >50</text>
<line x1="125.9" y1="327.1" x2="125.9" y2="330.3" stroke="#2b2b2b" stroke-width="1.1" />
<text x="125.9" y="341.2" font-size="8.3" text-anchor="middle" fill="#444" >100</text>
<line x1="167.3" y1="327.1" x2="167.3" y2="330.3" stroke="#2b2b2b" stroke-width="1.1" />
<text x="167.3" y="341.2" font-size="8.3" text-anchor="middle" fill="#444" >150</text>
<line x1="208.4" y1="327.1" x2="208.4" y2="330.3" stroke="#2b2b2b" stroke-width="1.1" />
<text x="208.4" y="341.2" font-size="8.3" text-anchor="middle" fill="#444" >200</text>
<line x1="249.8" y1="327.1" x2="249.8" y2="330.3" stroke="#2b2b2b" stroke-width="1.1" />
<text x="249.8" y="341.2" font-size="8.3" text-anchor="middle" fill="#444" >250</text>
<path d="M43.30,327.10 C44.05,325.63 46.78,321.20 47.80,318.30 C48.82,315.40 48.42,312.38 49.40,309.70 C50.38,307.02 52.10,304.25 53.70,302.20 C55.30,300.15 57.28,298.47 59.00,297.40 C60.72,296.33 62.50,296.23 64.00,295.80 C65.50,295.37 66.17,295.02 68.00,294.80 C69.83,294.58 71.75,294.53 75.00,294.50 C78.25,294.47 83.43,294.45 87.50,294.60 C91.57,294.75 96.55,295.07 99.40,295.40 C102.25,295.73 101.37,295.93 104.60,296.60 C107.83,297.27 114.47,298.23 118.80,299.40 C123.13,300.57 126.65,302.23 130.60,303.60 C134.55,304.97 138.53,306.28 142.50,307.60 C146.47,308.92 150.58,310.20 154.40,311.50 C158.22,312.80 161.00,313.88 165.40,315.40 C169.80,316.92 175.70,319.13 180.80,320.60 C185.90,322.07 190.88,323.22 196.00,324.20 C201.12,325.18 207.33,326.02 211.50,326.50 C215.67,326.98 219.42,327.00 221.00,327.10" fill="none" stroke="#e5a045" stroke-width="1.05" stroke-linejoin="round"/>
<path d="M43.30,327.10 C44.13,327.80 46.93,328.82 48.30,331.30 C49.67,333.78 50.25,339.15 51.50,342.00 C52.75,344.85 54.18,346.43 55.80,348.40 C57.42,350.37 59.17,352.20 61.20,353.80 C63.23,355.40 65.60,357.03 68.00,358.00 C70.40,358.97 72.27,359.47 75.60,359.60 C78.93,359.73 84.03,358.98 88.00,358.80 C91.97,358.62 95.67,358.75 99.40,358.50 C103.13,358.25 106.00,358.05 110.40,357.30 C114.80,356.55 120.67,355.55 125.80,354.00 C130.93,352.45 136.08,350.13 141.20,348.00 C146.32,345.87 151.38,343.23 156.50,341.20 C161.62,339.17 167.15,337.33 171.90,335.80 C176.65,334.27 180.98,333.00 185.00,332.00 C189.02,331.00 191.58,330.50 196.00,329.80 C200.42,329.10 207.33,328.25 211.50,327.80 C215.67,327.35 219.42,327.22 221.00,327.10" fill="none" stroke="#e5a045" stroke-width="1.05" stroke-linejoin="round"/>
<path d="M43.30,327.10 C43.97,325.08 46.10,318.78 47.30,315.00 C48.50,311.22 49.25,307.60 50.50,304.40 C51.75,301.20 53.20,297.77 54.80,295.80 C56.40,293.83 57.90,293.48 60.10,292.60 C62.30,291.72 65.52,290.95 68.00,290.50 C70.48,290.05 72.75,289.92 75.00,289.90 C77.25,289.88 78.17,289.85 81.50,290.40 C84.83,290.95 91.15,292.27 95.00,293.20 C98.85,294.13 101.27,295.15 104.60,296.00 C107.93,296.85 111.35,297.28 115.00,298.30 C118.65,299.32 122.65,300.60 126.50,302.10 C130.35,303.60 134.25,305.47 138.10,307.30 C141.95,309.13 145.75,311.18 149.60,313.10 C153.45,315.02 158.32,317.55 161.20,318.80 C164.08,320.05 164.60,320.02 166.90,320.60 C169.20,321.18 172.32,321.68 175.00,322.30 C177.68,322.92 180.00,323.50 183.00,324.30 C186.00,325.10 191.33,326.63 193.00,327.10" fill="none" stroke="#5b3c76" stroke-width="1.05" stroke-linejoin="round"/>
<path d="M43.30,327.10 C44.05,328.70 46.60,333.32 47.80,336.70 C49.00,340.08 49.33,344.20 50.50,347.40 C51.67,350.60 53.02,353.77 54.80,355.90 C56.58,358.03 59.00,359.18 61.20,360.20 C63.40,361.22 65.60,361.43 68.00,362.00 C70.40,362.57 72.27,363.63 75.60,363.60 C78.93,363.57 84.03,362.40 88.00,361.80 C91.97,361.20 95.67,360.62 99.40,360.00 C103.13,359.38 106.00,359.18 110.40,358.10 C114.80,357.02 120.67,355.68 125.80,353.50 C130.93,351.32 136.08,347.70 141.20,345.00 C146.32,342.30 151.38,339.48 156.50,337.30 C161.62,335.12 167.48,333.28 171.90,331.90 C176.32,330.52 179.48,329.80 183.00,329.00 C186.52,328.20 191.33,327.42 193.00,327.10" fill="none" stroke="#5b3c76" stroke-width="1.05" stroke-linejoin="round"/>
<path d="M43.30,327.10 C43.75,325.08 45.17,319.32 46.00,315.00 C46.83,310.68 47.02,304.93 48.30,301.20 C49.58,297.47 51.92,294.57 53.70,292.60 C55.48,290.63 57.28,290.07 59.00,289.40 C60.72,288.73 62.50,288.68 64.00,288.60 C65.50,288.52 66.92,288.73 68.00,288.90 C69.08,289.07 69.45,289.12 70.50,289.60 C71.55,290.08 72.97,290.62 74.30,291.80 C75.63,292.98 77.08,294.98 78.50,296.70 C79.92,298.42 81.37,300.00 82.80,302.10 C84.23,304.20 85.68,307.22 87.10,309.30 C88.52,311.38 89.88,313.10 91.30,314.60 C92.72,316.10 94.15,317.37 95.60,318.30 C97.05,319.23 97.53,319.53 100.00,320.20 C102.47,320.87 107.27,321.67 110.40,322.30 C113.53,322.93 116.30,323.42 118.80,324.00 C121.30,324.58 123.87,325.28 125.40,325.80 C126.93,326.32 127.57,326.88 128.00,327.10" fill="none" stroke="#62a64a" stroke-width="1.05" stroke-linejoin="round"/>
<path d="M43.30,327.10 C43.97,329.58 46.10,337.55 47.30,342.00 C48.50,346.45 49.25,350.77 50.50,353.80 C51.75,356.83 52.85,358.60 54.80,360.20 C56.75,361.80 60.00,362.73 62.20,363.40 C64.40,364.07 65.77,364.27 68.00,364.20 C70.23,364.13 73.43,364.37 75.60,363.00 C77.77,361.63 79.02,358.77 81.00,356.00 C82.98,353.23 85.50,349.07 87.50,346.40 C89.50,343.73 91.02,341.80 93.00,340.00 C94.98,338.20 96.50,337.03 99.40,335.60 C102.30,334.17 106.27,332.68 110.40,331.40 C114.53,330.12 121.27,328.62 124.20,327.90 C127.13,327.18 127.37,327.23 128.00,327.10" fill="none" stroke="#62a64a" stroke-width="1.05" stroke-linejoin="round"/>
<path d="M43.30,327.10 C43.48,326.08 44.00,323.02 44.40,321.00 C44.80,318.98 45.22,318.30 45.70,315.00 C46.18,311.70 46.50,305.12 47.30,301.20 C48.10,297.28 49.25,293.73 50.50,291.50 C51.75,289.27 53.13,288.58 54.80,287.80 C56.47,287.02 58.63,286.80 60.50,286.80 C62.37,286.80 64.42,287.12 66.00,287.80 C67.58,288.48 68.75,289.62 70.00,290.90 C71.25,292.18 72.43,293.63 73.50,295.50 C74.57,297.37 75.38,299.58 76.40,302.10 C77.42,304.62 78.60,307.90 79.60,310.60 C80.60,313.30 81.53,316.13 82.40,318.30 C83.27,320.47 84.07,322.25 84.80,323.60 C85.53,324.95 86.10,325.82 86.80,326.40 C87.50,326.98 88.63,326.98 89.00,327.10" fill="none" stroke="#a8344c" stroke-width="1.15" stroke-linejoin="round"/>
<path d="M43.30,327.10 C43.60,327.80 44.62,327.92 45.10,331.30 C45.58,334.68 45.67,342.95 46.20,347.40 C46.73,351.85 47.23,355.15 48.30,358.00 C49.37,360.85 50.82,362.98 52.60,364.50 C54.38,366.02 57.27,366.63 59.00,367.10 C60.73,367.57 61.50,367.65 63.00,367.30 C64.50,366.95 66.75,365.80 68.00,365.00 C69.25,364.20 69.58,363.83 70.50,362.50 C71.42,361.17 72.45,359.28 73.50,357.00 C74.55,354.72 75.63,351.97 76.80,348.80 C77.97,345.63 79.38,340.88 80.50,338.00 C81.62,335.12 82.50,333.17 83.50,331.50 C84.50,329.83 85.58,328.73 86.50,328.00 C87.42,327.27 88.58,327.25 89.00,327.10" fill="none" stroke="#a8344c" stroke-width="1.15" stroke-linejoin="round"/>
<line x1="88.5" y1="327.1" x2="252" y2="327.1" stroke="#a8344c" stroke-width="1.05" />
<line x1="175.1" y1="261.2" x2="189.5" y2="261.2" stroke="#a8344c" stroke-width="1.4" opacity="0.62"/>
<text x="193" y="263.9" font-size="7.9" text-anchor="start" fill="#1f1f1f" textLength="36.5" lengthAdjust="spacingAndGlyphs" >Buffer only</text>
<line x1="175.1" y1="273.0" x2="189.5" y2="273.0" stroke="#62a64a" stroke-width="1.4" opacity="0.62"/>
<text x="193" y="275.7" font-size="7.9" text-anchor="start" fill="#1f1f1f" textLength="8.5" lengthAdjust="spacingAndGlyphs" >1:1</text>
<line x1="175.1" y1="284.8" x2="189.5" y2="284.8" stroke="#5b3c76" stroke-width="1.4" opacity="0.62"/>
<text x="193" y="287.5" font-size="7.9" text-anchor="start" fill="#1f1f1f" textLength="9.3" lengthAdjust="spacingAndGlyphs" >5:1</text>
<line x1="175.1" y1="296.6" x2="189.5" y2="296.6" stroke="#e5a045" stroke-width="1.4" opacity="0.62"/>
<text x="193" y="299.3" font-size="7.9" text-anchor="start" fill="#1f1f1f" textLength="12.4" lengthAdjust="spacingAndGlyphs" >10:1</text>
<text x="274.0" y="234.5" font-size="12.0" text-anchor="start" fill="#2a2a2a" textLength="8.1" lengthAdjust="spacingAndGlyphs" style="stroke:none">D</text>
<line x1="313.1" y1="254.9" x2="313.1" y2="373.7" stroke="#2b2b2b" stroke-width="1.1" />
<line x1="312.5" y1="373.1" x2="390" y2="373.1" stroke="#2b2b2b" stroke-width="1.2" />
<line x1="309.8" y1="258.2" x2="313.1" y2="258.2" stroke="#2b2b2b" stroke-width="1.1" />
<text x="307.0" y="261.5" font-size="8.9" text-anchor="end" fill="#1f1f1f" style="stroke-width:0.1px">60</text>
<line x1="309.8" y1="277.34999999999997" x2="313.1" y2="277.34999999999997" stroke="#2b2b2b" stroke-width="1.1" />
<text x="307.0" y="280.65" font-size="8.9" text-anchor="end" fill="#1f1f1f" style="stroke-width:0.1px">50</text>
<line x1="309.8" y1="296.5" x2="313.1" y2="296.5" stroke="#2b2b2b" stroke-width="1.1" />
<text x="307.0" y="299.8" font-size="8.9" text-anchor="end" fill="#1f1f1f" style="stroke-width:0.1px">40</text>
<line x1="309.8" y1="315.65" x2="313.1" y2="315.65" stroke="#2b2b2b" stroke-width="1.1" />
<text x="307.0" y="318.95" font-size="8.9" text-anchor="end" fill="#1f1f1f" style="stroke-width:0.1px">30</text>
<line x1="309.8" y1="334.79999999999995" x2="313.1" y2="334.79999999999995" stroke="#2b2b2b" stroke-width="1.1" />
<text x="307.0" y="338.09999999999997" font-size="8.9" text-anchor="end" fill="#1f1f1f" style="stroke-width:0.1px">20</text>
<line x1="309.8" y1="353.95" x2="313.1" y2="353.95" stroke="#2b2b2b" stroke-width="1.1" />
<text x="307.0" y="357.25" font-size="8.9" text-anchor="end" fill="#1f1f1f" style="stroke-width:0.1px">10</text>
<line x1="309.8" y1="373.09999999999997" x2="313.1" y2="373.09999999999997" stroke="#2b2b2b" stroke-width="1.1" />
<text x="307.0" y="376.4" font-size="8.9" text-anchor="end" fill="#1f1f1f" style="stroke-width:0.1px">0</text>
<line x1="325.2" y1="373.1" x2="325.2" y2="376.6" stroke="#2b2b2b" stroke-width="1.1" />
<line x1="342.9" y1="373.1" x2="342.9" y2="376.6" stroke="#2b2b2b" stroke-width="1.1" />
<line x1="360.2" y1="373.1" x2="360.2" y2="376.6" stroke="#2b2b2b" stroke-width="1.1" />
<line x1="377.9" y1="373.1" x2="377.9" y2="376.6" stroke="#2b2b2b" stroke-width="1.1" />
<text transform="translate(291.4,314.4) rotate(-90)" font-size="10.3" text-anchor="middle" fill="#1f1f1f" textLength="129.2" lengthAdjust="spacingAndGlyphs">Maximum clot firmness (mm)</text>
<line x1="325.3" y1="271.4" x2="325.3" y2="293.5" stroke="#474747" stroke-width="1.1" />
<line x1="322.40000000000003" y1="271.4" x2="328.2" y2="271.4" stroke="#474747" stroke-width="1.1" />
<line x1="322.40000000000003" y1="293.5" x2="328.2" y2="293.5" stroke="#474747" stroke-width="1.1" />
<circle cx="325.3" cy="282.5" r="2.7" fill="#a83448"/>
<line x1="342.8" y1="274.5" x2="342.8" y2="295.9" stroke="#474747" stroke-width="1.1" />
<line x1="339.90000000000003" y1="274.5" x2="345.7" y2="274.5" stroke="#474747" stroke-width="1.1" />
<line x1="339.90000000000003" y1="295.9" x2="345.7" y2="295.9" stroke="#474747" stroke-width="1.1" />
<circle cx="342.8" cy="284.9" r="2.7" fill="#6aaa4f"/>
<line x1="360.3" y1="279.5" x2="360.3" y2="298.2" stroke="#474747" stroke-width="1.1" />
<line x1="357.40000000000003" y1="279.5" x2="363.2" y2="279.5" stroke="#474747" stroke-width="1.1" />
<line x1="357.40000000000003" y1="298.2" x2="363.2" y2="298.2" stroke="#474747" stroke-width="1.1" />
<circle cx="360.3" cy="288.8" r="2.7" fill="#5f3a70"/>
<line x1="377.7" y1="292.3" x2="377.7" y2="307.3" stroke="#474747" stroke-width="1.1" />
<line x1="374.8" y1="292.3" x2="380.59999999999997" y2="292.3" stroke="#474747" stroke-width="1.1" />
<line x1="374.8" y1="307.3" x2="380.59999999999997" y2="307.3" stroke="#474747" stroke-width="1.1" />
<circle cx="377.7" cy="299.6" r="2.7" fill="#e49a2e"/>
<text transform="translate(328.5,383.4) rotate(-45)" font-size="8.3" text-anchor="end" fill="#1f1f1f">Buffer only</text>
<text transform="translate(347.1,383.4) rotate(-45)" font-size="8.3" text-anchor="end" fill="#1f1f1f">1:1</text>
<text transform="translate(364.8,383.4) rotate(-45)" font-size="8.3" text-anchor="end" fill="#1f1f1f">5:1</text>
<text transform="translate(382.1,383.4) rotate(-45)" font-size="8.3" text-anchor="end" fill="#1f1f1f">10:1</text>
<text x="409.6" y="234.3" font-size="12.0" text-anchor="start" fill="#2a2a2a" textLength="6.0" lengthAdjust="spacingAndGlyphs" style="stroke:none">E</text>
<line x1="438.3" y1="260.3" x2="438.3" y2="373.5" stroke="#2b2b2b" stroke-width="1.1" />
<line x1="437.8" y1="372.9" x2="512.1" y2="372.9" stroke="#2b2b2b" stroke-width="1.2" />
<line x1="435.0" y1="264.3" x2="438.3" y2="264.3" stroke="#2b2b2b" stroke-width="1.1" />
<text x="431.8" y="267.6" font-size="8.9" text-anchor="end" fill="#1f1f1f" style="stroke-width:0.1px">80</text>
<line x1="435.0" y1="291.45" x2="438.3" y2="291.45" stroke="#2b2b2b" stroke-width="1.1" />
<text x="431.8" y="294.75" font-size="8.9" text-anchor="end" fill="#1f1f1f" style="stroke-width:0.1px">60</text>
<line x1="435.0" y1="318.6" x2="438.3" y2="318.6" stroke="#2b2b2b" stroke-width="1.1" />
<text x="431.8" y="321.90000000000003" font-size="8.9" text-anchor="end" fill="#1f1f1f" style="stroke-width:0.1px">40</text>
<line x1="435.0" y1="345.75" x2="438.3" y2="345.75" stroke="#2b2b2b" stroke-width="1.1" />
<text x="431.8" y="349.05" font-size="8.9" text-anchor="end" fill="#1f1f1f" style="stroke-width:0.1px">20</text>
<line x1="435.0" y1="372.9" x2="438.3" y2="372.9" stroke="#2b2b2b" stroke-width="1.1" />
<text x="431.8" y="376.2" font-size="8.9" text-anchor="end" fill="#1f1f1f" style="stroke-width:0.1px">0</text>
<line x1="449.6" y1="372.9" x2="449.6" y2="376.4" stroke="#2b2b2b" stroke-width="1.1" />
<line x1="466.5" y1="372.9" x2="466.5" y2="376.4" stroke="#2b2b2b" stroke-width="1.1" />
<line x1="483.3" y1="372.9" x2="483.3" y2="376.4" stroke="#2b2b2b" stroke-width="1.1" />
<line x1="500.0" y1="372.9" x2="500.0" y2="376.4" stroke="#2b2b2b" stroke-width="1.1" />
<text transform="translate(416.3,317.1) rotate(-90)" font-size="10.3" text-anchor="middle" fill="#1f1f1f" textLength="69" lengthAdjust="spacingAndGlyphs">Lysis time (min)</text>
<line x1="466.2" y1="331.0" x2="466.2" y2="352.3" stroke="#474747" stroke-width="1.1" />
<line x1="463.3" y1="331.0" x2="469.09999999999997" y2="331.0" stroke="#474747" stroke-width="1.1" />
<line x1="463.3" y1="352.3" x2="469.09999999999997" y2="352.3" stroke="#474747" stroke-width="1.1" />
<circle cx="466.2" cy="341.7" r="2.7" fill="#6aaa4f"/>
<line x1="482.8" y1="284.5" x2="482.8" y2="303.7" stroke="#474747" stroke-width="1.1" />
<line x1="479.90000000000003" y1="284.5" x2="485.7" y2="284.5" stroke="#474747" stroke-width="1.1" />
<line x1="479.90000000000003" y1="303.7" x2="485.7" y2="303.7" stroke="#474747" stroke-width="1.1" />
<circle cx="482.8" cy="293.8" r="2.7" fill="#5f3a70"/>
<line x1="499.9" y1="275.4" x2="499.9" y2="298.8" stroke="#474747" stroke-width="1.1" />
<line x1="497.0" y1="275.4" x2="502.79999999999995" y2="275.4" stroke="#474747" stroke-width="1.1" />
<line x1="497.0" y1="298.8" x2="502.79999999999995" y2="298.8" stroke="#474747" stroke-width="1.1" />
<circle cx="499.9" cy="287.1" r="2.7" fill="#e49a2e"/>
<line x1="446.7" y1="351.0" x2="452.3" y2="351.0" stroke="#444" stroke-width="1.0" />
<line x1="446.7" y1="356.0" x2="452.3" y2="356.0" stroke="#444" stroke-width="1.0" />
<circle cx="449.5" cy="353.5" r="2.75" fill="#a83448"/>
<circle cx="482.8" cy="276.4" r="1.05" fill="#444"/>
<circle cx="499.9" cy="265.7" r="1.05" fill="#444"/>
<text transform="translate(453.5,383.4) rotate(-45)" font-size="8.3" text-anchor="end" fill="#1f1f1f">Buffer only</text>
<text transform="translate(470.0,383.4) rotate(-45)" font-size="8.3" text-anchor="end" fill="#1f1f1f">1:1</text>
<text transform="translate(487.3,383.4) rotate(-45)" font-size="8.3" text-anchor="end" fill="#1f1f1f">5:1</text>
<text transform="translate(504.6,383.4) rotate(-45)" font-size="8.3" text-anchor="end" fill="#1f1f1f">10:1</text>
<rect x="0" y="0" width="520" height="1.3" fill="#74736d"/>
<rect x="0" y="0" width="1.8" height="421" fill="#6f6e68"/>
<rect x="518.8" y="0" width="1.2" height="421" fill="#3c3c38"/>
<rect x="0" y="419" width="520" height="2" fill="#6a6964"/>
</svg></body></html>
